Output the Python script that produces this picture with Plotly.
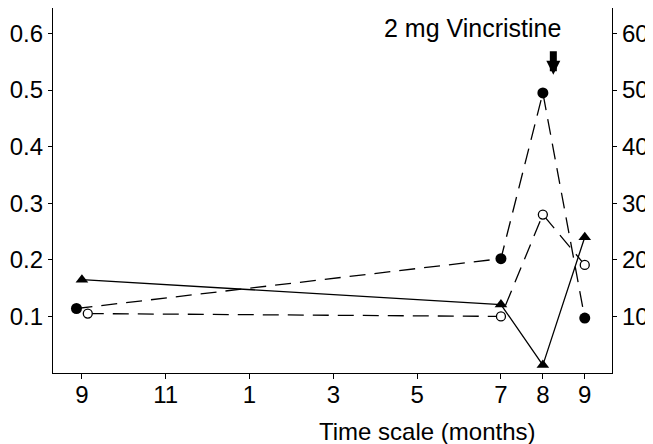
import plotly.graph_objects as go

# Time axis: months since first observation (ticks are calendar months)
tick_pos = [0, 2, 4, 6, 8, 10, 11, 12]
tick_text = ["9", "11", "1", "3", "5", "7", "8", "9"]

# Filled circles (left axis)
filled_x = [-0.13, 10, 11, 12]
filled_y = [0.114, 0.202, 0.495, 0.097]

# Open circles (left axis)
open_x = [0.14, 10, 11, 12]
open_y = [0.105, 0.100, 0.280, 0.191]

# Triangles (right axis)
tri_x = [0, 10, 11, 12]
tri_y = [16.5, 12.1, 1.4, 24.0]

left_ticks = [0.1, 0.2, 0.3, 0.4, 0.5, 0.6]
right_ticks = [10, 20, 30, 40, 50, 60]

FONT = "Liberation Sans, Arial, Helvetica, sans-serif"
DASH = "16px,9px"

fig = go.Figure()
fig.add_trace(go.Scatter(
    x=filled_x, y=filled_y, mode="lines+markers",
    line=dict(color="black", width=1.3, dash=DASH),
    marker=dict(symbol="circle", size=11, color="black"),
    showlegend=False))
fig.add_trace(go.Scatter(
    x=open_x, y=open_y, mode="lines+markers",
    line=dict(color="black", width=1.3, dash=DASH),
    marker=dict(symbol="circle", size=9, color="white",
                line=dict(color="black", width=1.3)),
    showlegend=False))
fig.add_trace(go.Scatter(
    x=tri_x, y=tri_y, mode="lines+markers", yaxis="y2",
    line=dict(color="black", width=1.3),
    marker=dict(symbol="triangle-up", size=11, color="black"),
    showlegend=False))

axis_common = dict(showgrid=False, zeroline=False, showline=True,
                   linecolor="black", linewidth=1.3, ticks="outside",
                   tickcolor="black", tickwidth=1.3, automargin=False,
                   tickfont=dict(family=FONT, size=24, color="black"))

# The page body adds an 8px offset, so the figure is drawn 8px smaller
fig.update_layout(
    width=645, height=436,
    margin=dict(l=45, r=41, t=0, b=71),
    paper_bgcolor="white", plot_bgcolor="white",
    font=dict(family=FONT, color="black"),
    xaxis=dict(range=[-0.69, 12.65], tickvals=tick_pos, ticktext=tick_text,
               ticklen=5, ticklabelstandoff=-5, **axis_common),
    yaxis=dict(range=[0, 0.645], tickvals=left_ticks,
               ticktext=[f"{v:.1f}" for v in left_ticks], ticklen=4,
               **axis_common),
    yaxis2=dict(range=[0, 64.5], tickvals=right_ticks,
                ticktext=[str(v) for v in right_ticks], ticklen=4,
                overlaying="y", side="right", **axis_common),
    annotations=[
        dict(text="2 mg Vincristine", xref="paper", yref="paper",
             x=0.751, y=0.945, xanchor="center", yanchor="middle",
             showarrow=False, font=dict(family=FONT, size=25, color="black")),
        dict(text="Time scale (months)", xref="paper", yref="paper",
             x=0.67, y=0, xanchor="center", yanchor="middle", yshift=-58,
             showarrow=False, font=dict(family=FONT, size=24, color="black")),
        dict(text="", x=11.25, y=0.527, xref="x", yref="y",
             showarrow=True, ax=0, ay=-25, arrowhead=2, arrowsize=0.4,
             arrowwidth=7, arrowcolor="black"),
    ],
)

fig.write_html("out.html")
